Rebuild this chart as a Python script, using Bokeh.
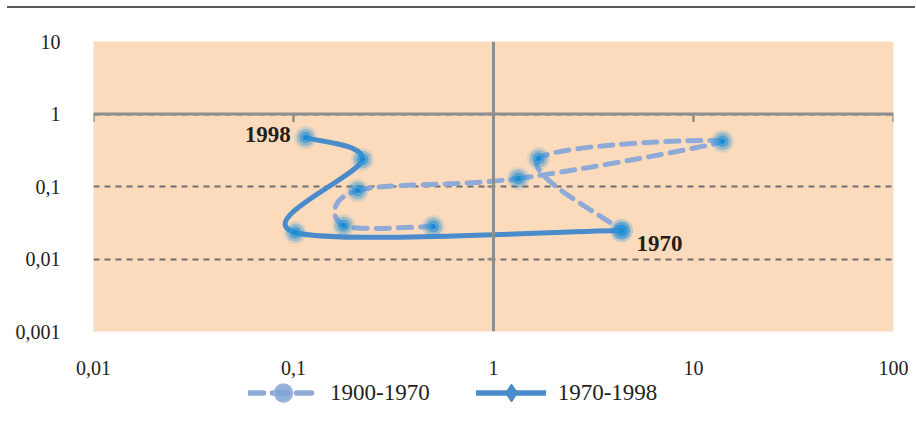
import numpy as np
from bokeh.plotting import figure
from bokeh.models import Span, FixedTicker, Legend, LegendItem, Div, ColumnDataSource
from bokeh.layouts import column
from bokeh.embed import file_html
from bokeh.resources import INLINE
from bokeh.core.properties import value

# ---------------- data ----------------
x_ticks = [0.01, 0.1, 1, 10, 100]
x_tick_labels = ["0,01", "0,1", "1", "10", "100"]
y_ticks = [0.001, 0.01, 0.1, 1, 10]
y_tick_labels = ["0,001", "0,01", "0,1", "1", "10"]

series_names = ["1900-1970", "1970-1998"]
s1_x = [0.50, 0.178, 0.209, 1.33, 13.96, 1.68, 4.37]
s1_y = [0.028, 0.029, 0.088, 0.129, 0.42, 0.243, 0.0247]
s2_x = [4.37, 0.102, 0.221, 0.115]
s2_y = [0.0247, 0.0232, 0.236, 0.474]

label_text = ["1998", "1970"]
label_x = [0.115, 4.37]
label_y = [0.474, 0.0247]

FONT = "Liberation Serif"
C_DASH = "#8FAAD6"
C_SOLID = "#4A8BCB"
C_MARK = "#2A93D5"


def smooth(xs, ys, t=1 / 6):
    lx = np.log10(np.asarray(xs, float))
    ly = np.log10(np.asarray(ys, float))
    n = len(lx)
    d = dict(x0=[], y0=[], x1=[], y1=[], cx0=[], cy0=[], cx1=[], cy1=[])
    for i in range(n - 1):
        im = max(i - 1, 0)
        ip2 = min(i + 2, n - 1)
        c0x = lx[i] + (lx[i + 1] - lx[im]) * t
        c0y = ly[i] + (ly[i + 1] - ly[im]) * t
        c1x = lx[i + 1] - (lx[ip2] - lx[i]) * t
        c1y = ly[i + 1] - (ly[ip2] - ly[i]) * t
        d["x0"].append(10 ** lx[i]); d["y0"].append(10 ** ly[i])
        d["x1"].append(10 ** lx[i + 1]); d["y1"].append(10 ** ly[i + 1])
        d["cx0"].append(10 ** c0x); d["cy0"].append(10 ** c0y)
        d["cx1"].append(10 ** c1x); d["cy1"].append(10 ** c1y)
    return ColumnDataSource(d)


p = figure(width=908, height=373, x_axis_type="log", y_axis_type="log",
           x_range=(0.01, 100), y_range=(0.001, 10),
           output_backend="svg", toolbar_location=None,
           min_border_left=93, min_border_right=15, min_border_top=33, min_border_bottom=50,
           background_fill_color="#FCDBBD", border_fill_color="white",
           outline_line_color=None)

# axes (labels only)
p.xaxis.ticker = FixedTicker(ticks=x_ticks, minor_ticks=[])
p.yaxis.ticker = FixedTicker(ticks=y_ticks, minor_ticks=[])
p.xaxis.major_label_overrides = {t: l for t, l in zip(x_ticks, x_tick_labels)}
p.yaxis.major_label_overrides = {t: l for t, l in zip(y_ticks, y_tick_labels)}
for ax in (p.xaxis, p.yaxis):
    ax.axis_line_color = None
    ax.major_tick_line_color = None
    ax.minor_tick_line_color = None
    ax.major_label_text_font = FONT
    ax.major_label_text_font_size = "20px"
    ax.major_label_text_color = "#222222"
p.xaxis.major_label_standoff = 23
p.yaxis.major_label_standoff = 27

p.xgrid.visible = False
p.ygrid.ticker = FixedTicker(ticks=y_ticks, minor_ticks=[])
p.ygrid.grid_line_color = "#6E6E6E"
p.ygrid.grid_line_dash = "6 5"
p.ygrid.grid_line_width = 2

# crossing axes at 1 / 1
p.add_layout(Span(location=1, dimension="width", line_color="#8E8E8E", line_width=3))
p.add_layout(Span(location=1, dimension="height", line_color="#8E8E8E", line_width=3))
p.segment(x0=x_ticks, y0=[1] * len(x_ticks), x1=x_ticks, y1=[10 ** -0.11] * len(x_ticks),
          line_color="#8E8E8E", line_width=2.5)
p.segment(x0=[1] * len(y_ticks[1:-1]), y0=y_ticks[1:-1], x1=[10 ** -0.03] * len(y_ticks[1:-1]),
          y1=y_ticks[1:-1], line_color="#8E8E8E", line_width=2.5)

# series 1 (dashed)
p.bezier(x0="x0", y0="y0", x1="x1", y1="y1", cx0="cx0", cy0="cy0", cx1="cx1", cy1="cy1",
         source=smooth(s1_x, s1_y), line_color=C_DASH, line_width=5,
         line_dash="13 9", line_cap="round")
# series 2 (solid)
p.bezier(x0="x0", y0="y0", x1="x1", y1="y1", cx0="cx0", cy0="cy0", cx1="cx1", cy1="cy1",
         source=smooth(s2_x, s2_y), line_color=C_SOLID, line_width=5, line_cap="round")

for xs, ys in ((s1_x, s1_y), (s2_x, s2_y)):
    p.scatter(xs, ys, size=23, marker="circle", fill_color=C_MARK, fill_alpha=0.15, line_color=None)
    p.scatter(xs, ys, size=18, marker="circle", fill_color=C_MARK, fill_alpha=0.35, line_color=None)
    p.scatter(xs, ys, size=12, marker="circle", fill_color=C_MARK, fill_alpha=0.6, line_color=None)
    p.scatter(xs, ys, size=5, marker="circle", fill_color="#1A8AD4", fill_alpha=1, line_color=None)

# data labels
p.text(x=label_x[:1], y=label_y[:1], text=label_text[:1], x_offset=-15, y_offset=-3,
       text_align="right", text_baseline="middle", text_font=value(FONT),
       text_font_style="bold", text_font_size="23px", text_color="#231F20")
p.text(x=label_x[1:], y=label_y[1:], text=label_text[1:], x_offset=15, y_offset=13,
       text_align="left", text_baseline="middle", text_font=value(FONT),
       text_font_style="bold", text_font_size="23px", text_color="#231F20")

# ---------------- legend strip ----------------
# proxies carry the series' first point; the strip's ranges keep them out of view
q = figure(width=908, height=42, x_range=(-10, -9), y_range=(-10, -9),
           output_backend="svg", toolbar_location=None,
           x_axis_location=None, y_axis_location=None,
           min_border=0, outline_line_color=None,
           background_fill_color="white", border_fill_color="white")
q.grid.visible = False

l1 = q.line(x=s1_x[:1], y=s1_y[:1], line_color=C_DASH, line_width=5.5, line_dash="15 9",
            line_cap="round")
m1 = q.scatter(x=s1_x[:1], y=s1_y[:1], marker="circle", size=17, fill_color="#7FA2D6",
               fill_alpha=0.85, line_color="#9DB5DE", line_width=1.5)
l2 = q.line(x=s2_x[:1], y=s2_y[:1], line_color=C_SOLID, line_width=5.5, line_cap="round")
m2 = q.scatter(x=s2_x[:1], y=s2_y[:1], marker="diamond", size=22, fill_color=C_SOLID,
               line_color=C_SOLID)

legend = Legend(items=[LegendItem(label=series_names[0], renderers=[l1, m1]),
                       LegendItem(label=series_names[1], renderers=[l2, m2])],
                orientation="horizontal", location=(155, 8),
                glyph_width=70, glyph_height=45, label_standoff=12, spacing=46,
                padding=0, margin=0, border_line_color=None, background_fill_alpha=0,
                label_text_font=FONT, label_text_font_size="23px", label_text_color="#231F20")
q.add_layout(legend)

top = Div(text="", width=908, height=2, margin=(6, 0, 0, 7),
          styles={"background-color": "#5A5A5A"})

layout = column(top, p, q, spacing=0)
open("out.html", "w").write(file_html(layout, INLINE))
